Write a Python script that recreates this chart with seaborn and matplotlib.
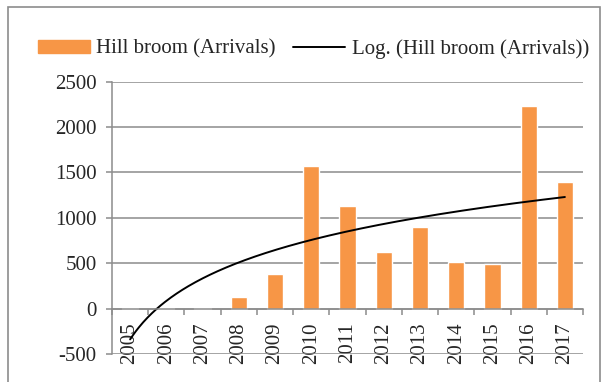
import numpy as np
import pandas as pd
import matplotlib
matplotlib.use("Agg")
import matplotlib.pyplot as plt
import seaborn as sns
from matplotlib.patches import Rectangle
from matplotlib.lines import Line2D
from matplotlib.ticker import FixedLocator

years = ["2005", "2006", "2007", "2008", "2009", "2010", "2011",
         "2012", "2013", "2014", "2015", "2016", "2017"]
arrivals = [5, 5, 5, 130, 380, 1575, 1130, 625, 900, 510, 490, 2235, 1395]
y_ticks = [-500, 0, 500, 1000, 1500, 2000, 2500]
bar_label = "Hill broom (Arrivals)"
trend_label = "Log. (Hill broom (Arrivals))"

sns.set_theme(style="white")
plt.rcParams["font.family"] = ["Liberation Serif", "DejaVu Serif"]

fig = plt.figure(figsize=(6.07, 3.82), dpi=100)
ax = fig.add_axes([112/607, 1-354/382, 471/607, (354-81.7)/382])

df = pd.DataFrame({"year": years, "arrivals": arrivals})
sns.barplot(data=df, x="year", y="arrivals", color="#F79646", saturation=1,
            width=0.45, ax=ax, zorder=3)

# logarithmic trendline (Excel style, x = 1..n)
xs = np.arange(1, len(arrivals) + 1)
a, b = np.polyfit(np.log(xs), np.array(arrivals, dtype=float), 1)
xf = np.linspace(1, len(arrivals), 300)
ax.plot(xf - 1, a*np.log(xf) + b, color="black", lw=1.4, zorder=4)

ax.set_xlim(-0.5, len(years) - 0.5)
ax.set_ylim(-500, 2500)
ax.set_yticks(y_ticks)
ax.set_yticklabels([str(v) for v in y_ticks], fontsize=15)
ax.set_xlabel("")
ax.set_ylabel("")

gray = "#8c8c8c"
ax.yaxis.grid(True, color=gray, lw=1.1, zorder=0)
ax.set_axisbelow(True)
for s in ["top", "right"]:
    ax.spines[s].set_visible(False)
ax.spines["left"].set_color(gray)
ax.spines["left"].set_linewidth(1.1)
ax.spines["bottom"].set_position(("data", 0))
ax.spines["bottom"].set_color(gray)
ax.spines["bottom"].set_linewidth(1.1)
ax.spines["bottom"].set_zorder(5)

ax.tick_params(axis="y", length=4, color=gray, width=1.1, pad=7, left=True)
ax.xaxis.set_minor_locator(FixedLocator(np.arange(-0.5, len(years), 1.0)))
ax.tick_params(axis="x", which="major", length=0, pad=10, labelsize=15,
               labelrotation=90)
ax.tick_params(axis="x", which="minor", length=4, color=gray, width=1.1,
               bottom=True, direction="out")
for lab in ax.get_xticklabels():
    lab.set_verticalalignment("top")

handles = [Rectangle((0, 0), 1, 1, color="#F79646"),
           Line2D([0], [0], color="black", lw=1.4)]
fig.legend(handles, [bar_label, trend_label], loc="center",
           bbox_to_anchor=(0.516, 0.872), ncol=2, frameon=False,
           fontsize=15, handlelength=2.5, handleheight=0.6,
           handletextpad=0.3, columnspacing=0.85, borderaxespad=0)

fig.patches.append(Rectangle((8/607, -0.05), (600-8)/607, (382-7)/382 + 0.05,
                             transform=fig.transFigure, fill=False,
                             edgecolor="#8c8c8c", lw=1.2))

fig.savefig("out.png", dpi=100)
